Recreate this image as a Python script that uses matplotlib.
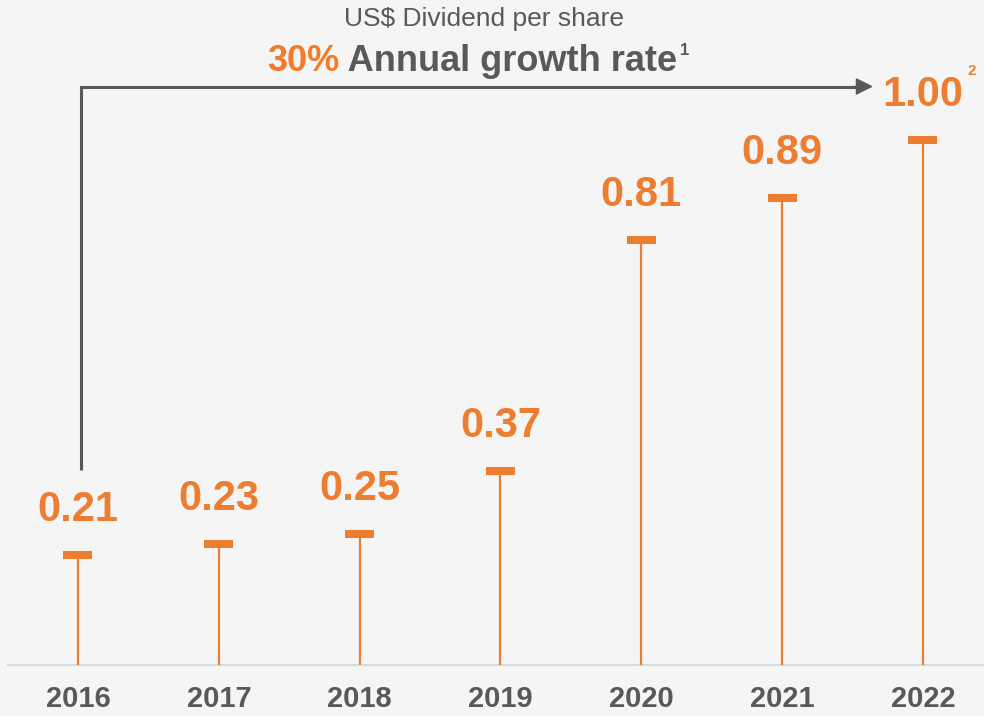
import matplotlib
matplotlib.use("Agg")
import matplotlib.pyplot as plt

plt.rcParams['font.family'] = ['Liberation Sans', 'DejaVu Sans']

years = ["2016", "2017", "2018", "2019", "2020", "2021", "2022"]
dividends = [0.21, 0.23, 0.25, 0.37, 0.81, 0.89, 1.00]
value_labels = ["0.21", "0.23", "0.25", "0.37", "0.81", "0.89", "1.00"]
title_line1 = "US$ Dividend per share"
growth_pct = "30%"
growth_text = " Annual growth rate"

ORANGE = "#ED7D31"
ORANGE2 = "#F47B2A"
GRAY = "#595959"
BG = "#F5F5F5"

W, H = 984, 716
fig = plt.figure(figsize=(W / 100, H / 100), dpi=100, facecolor=BG)
ax = fig.add_axes([0, 0, 1, 1])
ax.set_facecolor(BG)

# pixel layout: x index 0 at 78px, step 140.83px; value 0 at 665px from top, 525px per unit
px_x = 140.83
px_y = 525.0
x0 = 78
base = 665
ax.set_xlim(-x0 / px_x, (len(years) - 1) + (W - (x0 + px_x * (len(years) - 1))) / px_x)
ax.set_ylim(-(H - base) / px_y, base / px_y)
ax.axis('off')

xs = list(range(len(years)))

# baseline
ax.axhline(0, xmin=8 / W, xmax=1, color="#D9D9D9", lw=1.5, zorder=1)

# stems and caps
cap_half = 14.5 / px_x
ax.vlines(xs, 0, dividends, color=ORANGE, lw=1.6, zorder=2)
ax.hlines(dividends, [x - cap_half for x in xs], [x + cap_half for x in xs],
          color=ORANGE, lw=5.8, zorder=3, capstyle='butt')

# value labels
label_texts = []
for x, v, lab in zip(xs, dividends, value_labels):
    t = ax.annotate(lab, (x, v), xytext=(0, 24.5), textcoords='offset points',
                    ha='center', va='baseline', fontsize=30, fontweight='bold',
                    color=ORANGE)
    label_texts.append(t)

# superscript 2 on last label
ax.annotate("2", xy=(1, H - 75), xycoords=(label_texts[-1], 'figure pixels'),
            xytext=(3, 0), textcoords='offset points', ha='left', va='baseline',
            fontsize=11, fontweight='bold', color=ORANGE)

# year labels
for x, yr in zip(xs, years):
    ax.text(x, -(699 - base) / px_y, yr, ha='center', va='center',
            fontsize=21, fontweight='bold', color=GRAY)

# growth arrow
y_top = (base - 86.5) / px_y
y_start = (base - 470) / px_y
x_line = 3.5 / px_x
x_end = (873 - x0) / px_x
ax.plot([x_line, x_line, x_end - 0.08], [y_start, y_top, y_top], color=GRAY, lw=2.2,
        solid_joinstyle='miter', solid_capstyle='butt', zorder=2)
ax.annotate("", xy=(x_end, y_top), xytext=(x_end - 0.15, y_top),
            arrowprops=dict(arrowstyle='-|>,head_length=1.0,head_width=0.5',
                            mutation_scale=10.8, color=GRAY, lw=1,
                            shrinkA=0, shrinkB=0))

# titles
fig.text(484 / W, 1 - 19 / H, title_line1, ha='center', va='center',
         fontsize=19, color=GRAY)
t1 = fig.text(267 / W, 1 - 71 / H, growth_pct, ha='left', va='baseline',
              fontsize=26, fontweight='bold', color=ORANGE2)
t2 = ax.annotate(growth_text, xy=(1, 0), xycoords=t1, ha='left', va='bottom',
                 fontsize=26, fontweight='bold', color=GRAY)
ax.annotate("1", xy=(1, H - 55), xycoords=(t2, 'figure pixels'), xytext=(2, 0),
            textcoords='offset points', ha='left', va='baseline',
            fontsize=12, fontweight='bold', color=GRAY)

fig.savefig("out.png", dpi=100, facecolor=BG)
